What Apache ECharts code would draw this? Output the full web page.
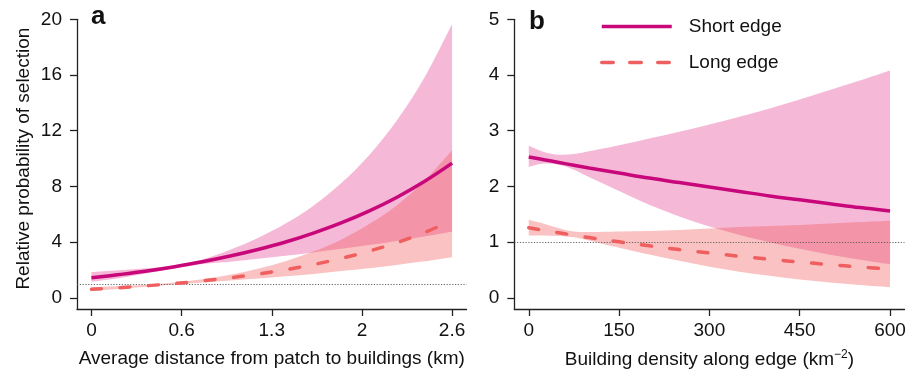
<!DOCTYPE html>
<html><head><meta charset="utf-8">
<script src="https://cdn.jsdelivr.net/npm/echarts@6/dist/echarts.min.js"></script>
<style>html,body{margin:0;padding:0;background:#fff}#c{width:907px;height:374px}</style>
</head><body><div id="c"></div>
<script>
// ---- Panel a: average distance from patch to buildings (km)
const xA = [0, 0.2, 0.4, 0.6, 0.8, 1.0, 1.2, 1.4, 1.6, 1.8, 2.0, 2.2, 2.4, 2.6];
const shortA   = [1.44, 1.67, 1.93, 2.24, 2.59, 3.00, 3.47, 4.01, 4.65, 5.38, 6.23, 7.21, 8.35, 9.67];
const shortALo = [1.15, 1.40, 1.76, 2.13, 2.43, 2.60, 2.80, 3.02, 3.26, 3.52, 3.79, 4.09, 4.41, 4.75];
const shortAHi = [1.85, 1.98, 2.12, 2.35, 2.76, 3.45, 4.30, 5.33, 6.62, 8.22, 10.22, 12.71, 15.80, 19.67];
const longA    = [0.62, 0.73, 0.87, 1.03, 1.22, 1.44, 1.71, 2.02, 2.39, 2.83, 3.35, 3.96, 4.69, 5.56];
const longALo  = [0.51, 0.64, 0.79, 0.97, 1.11, 1.25, 1.39, 1.55, 1.72, 1.92, 2.13, 2.36, 2.62, 2.92];
const longAHi  = [0.76, 0.85, 0.95, 1.10, 1.33, 1.66, 2.09, 2.63, 3.32, 4.18, 5.28, 6.64, 8.39, 10.60];

// ---- Panel b: building density along edge (km^-2)
const xB = [0, 25, 50, 75, 100, 150, 200, 250, 300, 350, 400, 450, 500, 550, 600];
const shortB   = [2.53, 2.48, 2.43, 2.38, 2.33, 2.24, 2.15, 2.07, 1.99, 1.91, 1.83, 1.76, 1.69, 1.62, 1.56];
const shortBLo = [2.35, 2.41, 2.39, 2.30, 2.17, 1.92, 1.67, 1.46, 1.28, 1.13, 1.00, 0.88, 0.775, 0.685, 0.605];
const shortBHi = [2.73, 2.62, 2.57, 2.58, 2.63, 2.74, 2.86, 2.98, 3.11, 3.25, 3.40, 3.56, 3.73, 3.90, 4.08];
const longB    = [1.257, 1.211, 1.167, 1.124, 1.083, 1.006, 0.934, 0.866, 0.805, 0.747, 0.693, 0.643, 0.597, 0.554, 0.514];
const longBLo  = [1.12, 1.12, 1.11, 1.09, 1.03, 0.90, 0.78, 0.665, 0.56, 0.47, 0.395, 0.33, 0.275, 0.23, 0.19];
const longBHi  = [1.40, 1.33, 1.25, 1.19, 1.18, 1.19, 1.20, 1.22, 1.245, 1.27, 1.29, 1.31, 1.335, 1.36, 1.385];

// ---- ticks and labels
const xTicksA = [0, 0.65, 1.3, 1.95, 2.6];
const xTickLabelsA = ['0', '0.6', '1.3', '2', '2.6'];
const yTicksA = [0, 4, 8, 12, 16, 20];
const xTicksB = [0, 150, 300, 450, 600];
const yTicksB = [0, 1, 2, 3, 4, 5];
const refValue = 1;
const seriesNames = ['Short edge', 'Long edge'];

const FONT = "'Liberation Sans', Arial, Helvetica, sans-serif";
const TXT = '#111';
const AX = '#222';
const C_SHORT = '#C8087A', C_LONG = '#EF5F5F';
const F_SHORT = 'rgba(229,52,141,0.35)', F_LONG = 'rgba(241,81,81,0.35)';

// Catmull-Rom chain through screen points -> cubic bezier path segments
function chain(p, start) {
  let d = start ? 'M' + p[0][0] + ',' + p[0][1] : 'L' + p[0][0] + ',' + p[0][1];
  for (let i = 0; i < p.length - 1; i++) {
    const p0 = p[Math.max(i - 1, 0)], p1 = p[i], p2 = p[i + 1], p3 = p[Math.min(i + 2, p.length - 1)];
    const c1x = p1[0] + (p2[0] - p0[0]) / 6, c1y = p1[1] + (p2[1] - p0[1]) / 6;
    const c2x = p2[0] - (p3[0] - p1[0]) / 6, c2y = p2[1] - (p3[1] - p1[1]) / 6;
    d += 'C' + c1x + ',' + c1y + ',' + c2x + ',' + c2y + ',' + p2[0] + ',' + p2[1];
  }
  return d;
}
function band(xs, lo, hi, fill, gi, z) {
  return {
    type: 'custom', xAxisIndex: gi, yAxisIndex: gi, silent: true, z: z,
    data: [[xs[0], lo[0]]],
    renderItem: function (params, api) {
      const top = xs.map((x, i) => api.coord([x, hi[i]]));
      const bot = xs.map((x, i) => api.coord([x, lo[i]])).reverse();
      const d = chain(top, true) + chain(bot, false) + 'Z';
      return { type: 'path', shape: { pathData: d }, style: { fill: fill, stroke: null } };
    }
  };
}
function line(name, xs, ys, color, dashed, gi, z, extra) {
  return Object.assign({
    type: 'line', name: name, xAxisIndex: gi, yAxisIndex: gi, z: z, silent: true,
    data: xs.map((x, i) => [x, ys[i]]), smooth: 0.4, symbol: 'none', showSymbol: false,
    lineStyle: { color: color, width: 3.5, type: dashed ? [10, 18.5] : 'solid', cap: dashed ? 'round' : 'butt' },
    itemStyle: { color: color }
  }, extra || {});
}
function refLine() {
  return { silent: true, symbol: ['none', 'none'], label: { show: false },
    lineStyle: { type: [1.2, 1.6], color: '#555', width: 0.9 }, data: [{ yAxis: refValue }] };
}
const nameStyle = { fontSize: 19, fontFamily: FONT, color: TXT };
function xAxisDef(gi, min, max, ticks, fmt, name, gap, nts) {
  return {
    type: 'value', gridIndex: gi, min: min, max: max,
    axisLine: { show: true, onZero: false, lineStyle: { color: AX, width: 1.3 } },
    axisTick: { show: true, length: 7, customValues: ticks, lineStyle: { color: AX, width: 1.3 } },
    axisLabel: { customValues: ticks, formatter: fmt, fontSize: 19, fontFamily: FONT, color: TXT, margin: 12 },
    splitLine: { show: false },
    name: name, nameLocation: 'middle', nameGap: gap, nameTextStyle: nts
  };
}
function yAxisDef(gi, min, max, ticks, name) {
  return {
    type: 'value', gridIndex: gi, min: min, max: max,
    axisLine: { show: true, onZero: false, lineStyle: { color: AX, width: 1.3 } },
    axisTick: { show: true, length: 7, customValues: ticks, lineStyle: { color: AX, width: 1.3 } },
    axisLabel: { customValues: ticks, fontSize: 19, fontFamily: FONT, color: TXT, margin: 15 },
    splitLine: { show: false },
    name: name, nameLocation: 'middle', nameGap: 44,
    nameTextStyle: Object.assign({ padding: [0, 0, 0, 11] }, nameStyle)
  };
}

const chart = echarts.init(document.getElementById('c'), null, { renderer: 'canvas' });
chart.setOption({
  animation: false,
  backgroundColor: '#fff',
  title: [
    { text: 'a', left: 91, top: 4, padding: 0, textStyle: { fontSize: 26, fontWeight: 'bold', fontFamily: FONT, color: TXT } },
    { text: 'b', left: 529, top: 9, padding: 0, textStyle: { fontSize: 26, fontWeight: 'bold', fontFamily: FONT, color: TXT } }
  ],
  legend: {
    data: [
      { name: seriesNames[0] },
      { name: seriesNames[1], lineStyle: { type: [11.5, 16.5], cap: 'round' } }
    ],
    orient: 'vertical', left: 600, top: 17, padding: 0, itemWidth: 70, itemHeight: 14, itemGap: 17,
    selectedMode: false,
    itemStyle: { opacity: 0 },
    lineStyle: { width: 3.5 },
    textStyle: { fontSize: 19, fontFamily: FONT, color: TXT, padding: [0, 0, 0, 12] }
  },
  grid: [
    { left: 77, top: 19.3, right: 440.5, bottom: 65, containLabel: false, outerBoundsMode: 'none' },
    { left: 514.3, top: 19.3, right: 2.5, bottom: 65, containLabel: false, outerBoundsMode: 'none' }
  ],
  xAxis: [
    xAxisDef(0, -0.104, 2.704, xTicksA, function (v) {
      let k = 0; xTicksA.forEach((t, i) => { if (Math.abs(t - v) < 1e-6) k = i; }); return xTickLabelsA[k];
    }, 'Average distance from patch to buildings (km)', 40, nameStyle),
    xAxisDef(1, -24, 624, xTicksB, null, '{n|Building density along edge (km}{s|\u22122}{n|)}', 40,
      Object.assign({ rich: { n: { fontSize: 19, fontFamily: FONT, color: TXT }, s: { fontSize: 12, fontFamily: FONT, color: TXT, padding: [0, 0, 9, 0] } } }, nameStyle))
  ],
  yAxis: [
    yAxisDef(0, -0.8, 20, yTicksA, 'Relative probability of selection'),
    yAxisDef(1, -0.2, 5, yTicksB, '')
  ],
  series: [
    band(xA, shortALo, shortAHi, F_SHORT, 0, 1),
    band(xA, longALo, longAHi, F_LONG, 0, 2),
    line(seriesNames[0], xA, shortA, C_SHORT, false, 0, 4),
    line(seriesNames[1], xA, longA, C_LONG, true, 0, 5, { markLine: refLine() }),
    band(xB, shortBLo, shortBHi, F_SHORT, 1, 1),
    band(xB, longBLo, longBHi, F_LONG, 1, 2),
    line(seriesNames[0], xB, shortB, C_SHORT, false, 1, 4),
    line(seriesNames[1], xB, longB, C_LONG, true, 1, 5, { markLine: refLine() })
  ]
});
</script></body></html>
